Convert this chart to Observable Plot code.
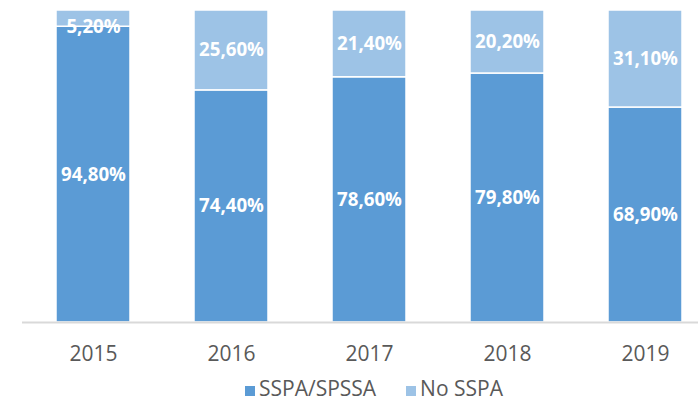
<!DOCTYPE html>
<html>
<head>
<meta charset="utf-8">
<script src="https://cdn.jsdelivr.net/npm/d3@7"></script>
<script src="https://cdn.jsdelivr.net/npm/@observablehq/plot@0.6"></script>
<style>
html, body { margin: 0; padding: 0; background: #fff; overflow: hidden; }
#legend { margin-top: 5px; padding-left: 245px; font-family: 'Open Sans'; font-size: 21px; color: #595959; white-space: nowrap; line-height: 22px; height: 22px; }
#legend .sw { display: inline-block; width: 10px; height: 10px; margin-right: 4px; }
#legend .item { margin-right: 30px; }
</style>
</head>
<body>
<div id="chart"></div>
<script>
const years = ["2015", "2016", "2017", "2018", "2019"];
const seriesNames = ["SSPA/SPSSA", "No SSPA"];
const sspa = [94.8, 74.4, 78.6, 79.8, 68.9];
const noSspa = [5.2, 25.6, 21.4, 20.2, 31.1];
const colors = ["#5b9bd5", "#9dc3e6"];

const data = years.flatMap((y, i) => [
  {year: y, series: seriesNames[0], value: sspa[i]},
  {year: y, series: seriesNames[1], value: noSspa[i]}
]);
const fmt = v => v.toFixed(2).replace(".", ",") + "%";

const chart = Plot.plot({
  width: 698,
  height: 372,
  marginTop: 10,
  marginBottom: 50,
  marginLeft: 22,
  marginRight: 0,
  style: {fontFamily: "'Open Sans'", background: "white", color: "#595959"},
  x: {domain: years, range: [22, 715], paddingInner: 0.466, paddingOuter: 0.233, label: null},
  y: {domain: [0, 100], axis: null},
  color: {domain: seriesNames, range: colors},
  marks: [
    Plot.barY(data, {x: "year", y: "value", z: "series", fill: "series", stroke: "white", strokeWidth: 1.5}),
    Plot.ruleY([0], {stroke: "#d9d9d9", strokeWidth: 2}),
    Plot.text(data, Plot.stackY({x: "year", y: "value", z: "series",
      text: d => d.value >= 10 ? fmt(d.value) : "",
      fill: "white", fontWeight: "bold", fontSize: 18.7})),
    Plot.text(data, Plot.stackY({x: "year", y: "value", z: "series",
      text: d => d.value < 10 ? fmt(d.value) : "",
      fill: "white", fontWeight: "bold", fontSize: 18.7, dy: 8})),
    Plot.axisX({tickSize: 0, tickPadding: 24, fontSize: 21, label: null})
  ]
});
document.getElementById("chart").appendChild(chart);

const legend = document.createElement("div");
legend.id = "legend";
seriesNames.forEach((name, i) => {
  const item = document.createElement("span");
  item.className = "item";
  const sw = document.createElement("span");
  sw.className = "sw";
  sw.style.background = colors[i];
  item.appendChild(sw);
  item.appendChild(document.createTextNode(name));
  legend.appendChild(item);
});
document.body.appendChild(legend);
</script>
</body>
</html>
